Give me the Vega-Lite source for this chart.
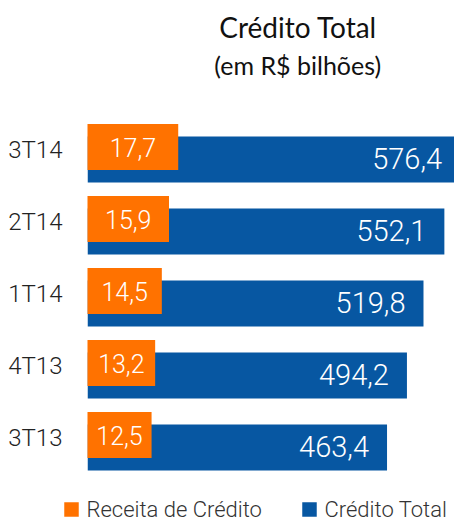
{
  "$schema": "https://vega.github.io/schema/vega-lite/v6.json",
  "autosize": "none",
  "width": 366.5,
  "height": 360,
  "padding": {"left": 87.5, "top": 123.5, "right": 0, "bottom": 38.5},
  "config": {
    "view": {"stroke": null},
    "font": "Roboto",
    "locale": {"number": {"decimal": ",", "thousands": ".", "grouping": [3], "currency": ["R$ ", ""]}}
  },
  "title": {
    "text": "Crédito Total",
    "subtitle": "(em R$ bilhões)",
    "font": "Lato",
    "subtitleFont": "Lato",
    "fontSize": 28,
    "subtitleFontSize": 25,
    "fontWeight": 400,
    "subtitleFontWeight": 400,
    "color": "#111111",
    "subtitleColor": "#111111",
    "anchor": "middle",
    "frame": "group",
    "dx": 27,
    "offset": 44,
    "subtitlePadding": 11
  },
  "data": {
    "values": [
      {"trimestre": "3T14", "total": 576.4, "receita": 17.7},
      {"trimestre": "2T14", "total": 552.1, "receita": 15.9},
      {"trimestre": "1T14", "total": 519.8, "receita": 14.5},
      {"trimestre": "4T13", "total": 494.2, "receita": 13.2},
      {"trimestre": "3T13", "total": 463.4, "receita": 12.5}
    ]
  },
  "encoding": {
    "y": {
      "field": "trimestre",
      "type": "nominal",
      "sort": null,
      "title": null,
      "scale": {"paddingInner": 0.36, "paddingOuter": 0.18},
      "axis": {"domain": false, "ticks": false, "labelPadding": 25.5, "labelFontSize": 24, "labelFont": "Roboto", "labelFontWeight": 300, "labelColor": "#222222", "labelOffset": -8.5}
    }
  },
  "layer": [
    {
      "mark": {"type": "bar", "clip": true},
      "encoding": {
        "x": {"field": "total", "type": "quantitative", "scale": {"domain": [0, 567], "nice": false}, "axis": null},
        "color": {
          "datum": "Crédito Total",
          "type": "nominal",
          "scale": {"domain": ["Receita de Crédito", "Crédito Total"], "range": ["#FF7200", "#0757A2"]},
          "legend": {
            "orient": "none", "legendX": -27, "legendY": 375, "direction": "horizontal", "title": null,
            "symbolType": "square", "symbolSize": 210, "symbolStrokeWidth": 0, "symbolOpacity": 1,
            "labelFontSize": 22, "labelFont": "Roboto", "labelFontWeight": 300, "labelColor": "#333333", "labelLimit": 400,
            "columnPadding": 36, "labelOffset": 4
          }
        }
      }
    },
    {
      "mark": {"type": "bar", "yOffset": -12.5},
      "encoding": {
        "x": {"field": "receita", "type": "quantitative", "scale": {"domain": [0, 71.5], "nice": false}, "axis": null},
        "color": {"datum": "Receita de Crédito", "type": "nominal"}
      }
    },
    {
      "mark": {"type": "text", "color": "white", "fontSize": 25, "fontWeight": 300, "align": "center", "baseline": "middle", "yOffset": -11},
      "encoding": {
        "x": {"field": "receita", "type": "quantitative", "scale": {"domain": [0, 143], "nice": false}, "axis": null},
        "text": {"field": "receita", "type": "quantitative", "format": ".1f"}
      }
    },
    {
      "mark": {"type": "text", "color": "white", "fontSize": 29, "fontWeight": 300, "align": "right", "baseline": "middle", "dx": -18},
      "encoding": {
        "x": {"field": "total", "type": "quantitative", "scale": {"domain": [0, 567], "nice": false}, "axis": null},
        "text": {"field": "total", "type": "quantitative", "format": ".1f"}
      }
    }
  ],
  "resolve": {"scale": {"x": "independent"}}
}
